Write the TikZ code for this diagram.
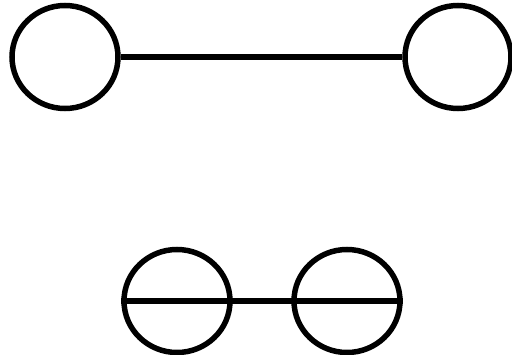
\documentclass[tikz,border=0pt]{standalone}
\usetikzlibrary{shapes.geometric}
\begin{document}
\begin{tikzpicture}[x=1pt,y=1pt,
  ring/.style={draw=black,ellipse,line width=5.5pt,inner sep=0pt,minimum width=106pt,minimum height=103pt},
  bar/.style={draw=black,line width=5.5pt}]
\useasboundingbox (0,0) rectangle (512,354);
\node[ring] (a) at (65,297) {};
\node[ring] (b) at (458,297) {};
\node[ring] (c) at (177,53) {};
\node[ring] (d) at (347,53) {};
\draw[bar] (a.east) -- (b.west);
\draw[bar] (c.west) -- (d.east);
\end{tikzpicture}
\end{document}
